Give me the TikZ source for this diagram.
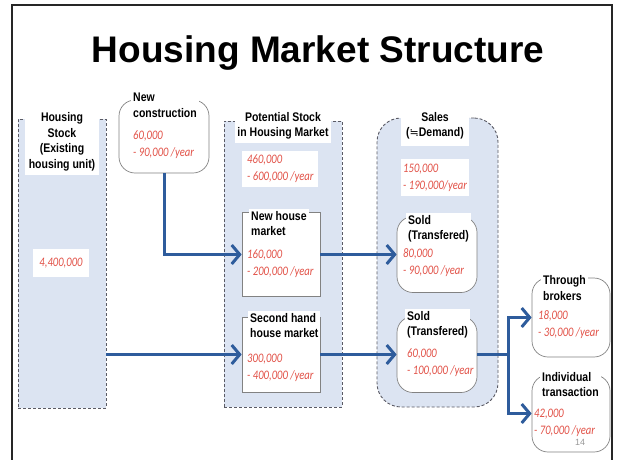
\documentclass[tikz,border=0pt]{standalone}
\usepackage{fontspec}
\setmainfont{Liberation Sans}
\newfontface\lab[FakeStretch=0.84]{Liberation Sans Bold}
\newfontface\val[FakeStretch=0.82]{Carlito Italic}
\newfontfamily\symf{DejaVu Sans}
\usetikzlibrary{arrows.meta}
\definecolor{lightbg}{RGB}{220,228,242}
\definecolor{valred}{RGB}{226,82,72}
\definecolor{arrblue}{RGB}{46,92,156}
\definecolor{dashgray}{RGB}{90,90,100}
\definecolor{boxgray}{RGB}{130,130,130}
\tikzset{
  container/.style={draw=dashgray, dash pattern=on 3pt off 2pt, line width=0.9pt, fill=lightbg, inner sep=0pt},
  plainbox/.style={draw=boxgray, line width=0.7pt, fill=white, inner sep=0pt},
  roundbox/.style={plainbox, rounded corners=16pt},
  lbl/.style={font=\lab\fontsize{12.5}{15.5}\selectfont, fill=white, inner sep=2pt},
  val/.style={font=\val\fontsize{13}{17}\selectfont, text=valred, align=left, inner sep=2pt},
  arr/.style={draw=arrblue, line width=3pt, -{Straight Barb[length=8pt,width=19pt]}},
  line/.style={draw=arrblue, line width=3pt},
}
\begin{document}
\begin{tikzpicture}[x=1pt,y=-1pt]
\useasboundingbox (0,0) rectangle (621,459);
% frame
\draw[line width=2pt, black!85] (12,470) -- (12,5) -- (612,5) -- (612,470);
% title
\node[font=\bfseries\fontsize{37}{40}\selectfont, anchor=base, inner sep=0pt] (title) at (318,62) {Housing Market Structure};

% containers
\node[container, minimum width=88pt, minimum height=289pt] (hs) at (62,263.5) {};
\node[container, minimum width=118pt, minimum height=286pt] (ps) at (283,264) {};
\node[container, rounded corners=24pt, minimum width=121pt, minimum height=289pt] (sales) at (437.5,262.5) {};

% housing stock
\node[lbl, align=center, inner xsep=4pt, inner ysep=4pt] (hslbl) at (62,142) {Housing\\Stock\\(Existing\\housing unit)};
\node[val, fill=white, inner xsep=6pt, inner ysep=9pt] (hsval) at (61,263) {4,400,000};

% potential stock
\node[lbl, align=center, inner ysep=3pt] (pslbl) at (283,126) {Potential Stock\\in Housing Market};
\node[val, fill=white, anchor=west, inner xsep=5pt, inner ysep=4pt] (psval) at (242,169) {460,000\\- 600,000 /year};

% sales
\node[lbl, align=center, inner xsep=5pt, inner ysep=6pt] (salbl) at (435,126) {Sales\\({\symf\fontsize{11}{12}\selectfont ≒}Demand)};
\node[val, fill=white, anchor=west, inner xsep=2pt, inner ysep=5pt] (saval) at (401,177.5) {150,000\\- 190,000/year};

% new construction
\node[roundbox, rounded corners=16pt, minimum width=90pt, minimum height=73pt] (nc) at (164,136.5) {};
\node[lbl, align=left, anchor=west] (nclbl) at (131,105.5) {New\\construction};
\node[val, anchor=west] (ncval) at (131,145) {60,000\\- 90,000 /year};

% new house market
\node[plainbox, minimum width=78pt, minimum height=84pt] (nh) at (281,254.5) {};
\node[lbl, align=left, anchor=west] (nhlbl) at (249,223.5) {New house\\market};
\node[val, anchor=west] (nhval) at (245,263.5) {160,000\\- 200,000 /year};

% second hand market
\node[plainbox, minimum width=78pt, minimum height=75pt] (sh) at (281,354.5) {};
\node[lbl, align=left, anchor=west] (shlbl) at (248,325.5) {Second hand\\house market};
\node[val, anchor=west] (shval) at (245,367.5) {300,000\\- 400,000 /year};

% sold 1
\node[roundbox, minimum width=80pt, minimum height=76pt] (s1) at (437,254.5) {};
\node[lbl, align=left, anchor=west] (s1lbl) at (406,229) {Sold\\(Transfered)};
\node[val, anchor=west] (s1val) at (401,262.5) {80,000\\- 90,000 /year};

% sold 2
\node[roundbox, minimum width=80pt, minimum height=76pt] (s2) at (437,354.5) {};
\node[lbl, align=left, anchor=west] (s2lbl) at (405,325) {Sold\\(Transfered)};
\node[val, anchor=west] (s2val) at (405,362.5) {60,000\\- 100,000 /year};

% through brokers
\node[roundbox, minimum width=78pt, minimum height=79pt] (tb) at (571,317.5) {};
\node[lbl, align=left, anchor=west] (tblbl) at (541,288) {Through\\brokers};
\node[val, anchor=west] (tbval) at (536,324.5) {18,000\\- 30,000 /year};

% individual transaction
\node[roundbox, minimum width=78pt, minimum height=77pt] (it) at (571,413.5) {};
\node[lbl, align=left, anchor=west] (itlbl) at (540,384.5) {Individual\\transaction};
\node[val, anchor=west] (itval) at (532,422.5) {42,000\\- 70,000 /year};

% page number
\node[font=\fontsize{9}{10}\selectfont, text=black!40, inner sep=0pt] (pg) at (580,442) {14};

% connectors
\coordinate (j) at (508,354.5);
\draw[arr] (nc.south) |- (nh.west);
\draw[arr] (sh.west -| hs.east) -- (sh.west);
\draw[arr] (nh.east) -- (s1.west);
\draw[arr] (sh.east) -- (s2.west);
\draw[line] (s2.east) -- (j);
\draw[arr] (j) |- (tb.west);
\draw[arr] (j) |- (it.west);
\end{tikzpicture}
\end{document}
